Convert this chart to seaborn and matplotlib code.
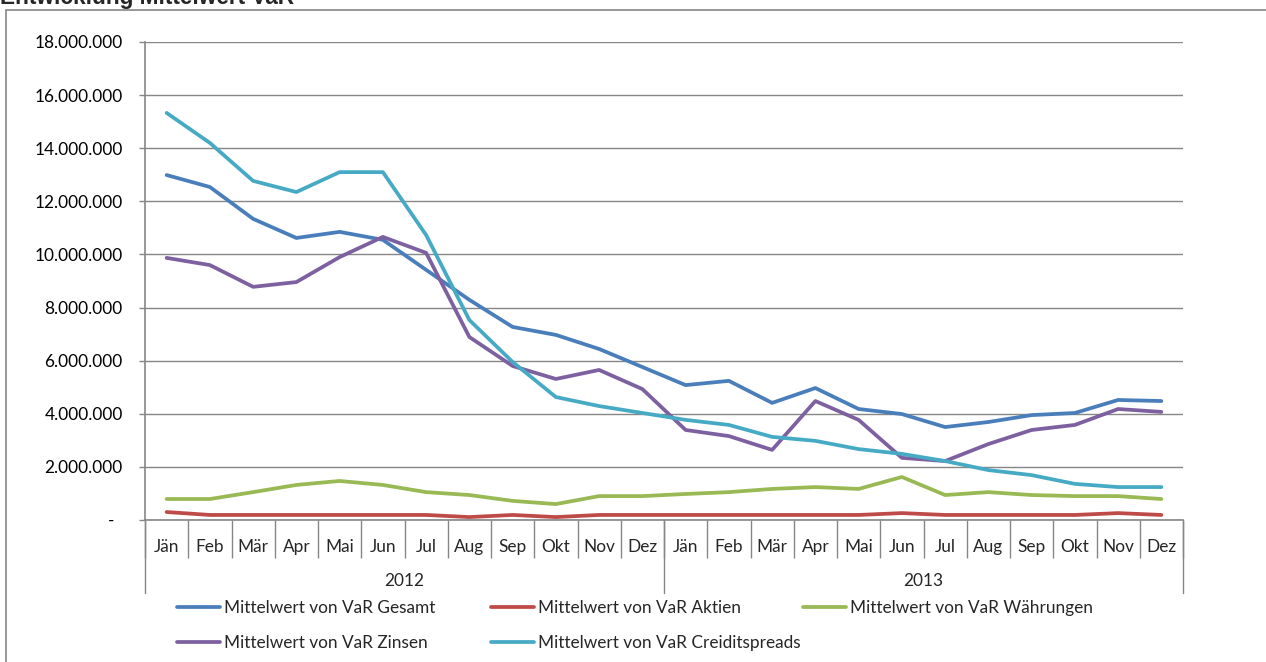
import matplotlib
matplotlib.use("Agg")
import matplotlib.pyplot as plt
import matplotlib.transforms as mtransforms
from matplotlib.lines import Line2D
from matplotlib.patches import Rectangle
from matplotlib.ticker import FuncFormatter, FixedLocator
import numpy as np
import pandas as pd
import seaborn as sns

# ---------------- data ----------------
months = ["Jän", "Feb", "Mär", "Apr", "Mai", "Jun", "Jul", "Aug", "Sep", "Okt", "Nov", "Dez"]
years = ["2012", "2013"]

gesamt = [12990000, 12540000, 11340000, 10620000, 10850000, 10550000, 9420000, 8290000,
          7270000, 6970000, 6440000, 5760000, 5080000, 5240000, 4410000, 4970000,
          4180000, 3990000, 3500000, 3690000, 3950000, 4030000, 4520000, 4480000]
aktien = [300000, 190000, 190000, 190000, 190000, 190000, 190000, 110000,
          190000, 110000, 190000, 190000, 190000, 190000, 190000, 190000,
          190000, 260000, 190000, 190000, 190000, 190000, 260000, 190000]
waehrungen = [790000, 790000, 1050000, 1320000, 1470000, 1320000, 1050000, 940000,
              720000, 600000, 900000, 900000, 980000, 1050000, 1170000, 1240000,
              1170000, 1620000, 940000, 1050000, 940000, 900000, 900000, 790000]
zinsen = [9870000, 9600000, 8780000, 8960000, 9900000, 10660000, 10060000, 6890000,
          5800000, 5310000, 5650000, 4930000, 3390000, 3160000, 2640000, 4480000,
          3770000, 2340000, 2220000, 2860000, 3390000, 3580000, 4180000, 4070000]
credit = [15330000, 14200000, 12770000, 12350000, 13100000, 13100000, 10730000, 7530000,
          5950000, 4630000, 4290000, 4030000, 3770000, 3580000, 3130000, 2980000,
          2670000, 2490000, 2220000, 1880000, 1690000, 1360000, 1240000, 1240000]

series_names = ["Mittelwert von VaR Gesamt", "Mittelwert von VaR Aktien",
                "Mittelwert von VaR Währungen", "Mittelwert von VaR Zinsen",
                "Mittelwert von VaR Creiditspreads"]
series_values = [gesamt, aktien, waehrungen, zinsen, credit]
colors = ["#4A7EBB", "#BE4B48", "#98B954", "#7D60A0", "#46AAC5"]
title = "Entwicklung Mittelwert VaR"

# ---------------- frame ----------------
n = len(months) * len(years)
rows = []
for name, vals in zip(series_names, series_values):
    for i, v in enumerate(vals):
        rows.append({"pos": i, "series": name, "value": v})
df = pd.DataFrame(rows)

# ---------------- style ----------------
sns.set_style("white")
plt.rcParams["font.family"] = ["Lato", "DejaVu Sans"]
GRAY = "#868686"
FS = 12.4

fig = plt.figure(figsize=(12.66, 6.62), dpi=100)
W, H = 1266, 662
ax = fig.add_axes([145 / W, 1 - 520 / H, (1183 - 145) / W, (520 - 42) / H])

sns.lineplot(data=df, x="pos", y="value", hue="series", hue_order=series_names,
             palette=colors, linewidth=2.7, sort=False, legend=False, ax=ax)

ax.set_xlim(-0.5, n - 0.5)
ax.set_ylim(0, 18000000)
ax.set_xlabel("")
ax.set_ylabel("")

# y axis
ax.yaxis.set_major_locator(FixedLocator(np.arange(0, 18000001, 2000000)))
ax.yaxis.set_major_formatter(FuncFormatter(
    lambda v, p: "-  " if v == 0 else f"{v:,.0f}".replace(",", ".")))
ax.grid(axis="y", color=GRAY, linewidth=1.0)
ax.set_axisbelow(True)
for s in ["top", "right"]:
    ax.spines[s].set_visible(False)
for s in ["left", "bottom"]:
    ax.spines[s].set_color(GRAY)
    ax.spines[s].set_linewidth(1.2)
ax.tick_params(axis="y", which="major", length=4, color=GRAY, width=1.0,
               labelsize=FS, pad=12, labelcolor="black", left=True)

# x axis: month labels at centers, separators at boundaries
ax.set_xticks(np.arange(n))
ax.set_xticklabels(months * len(years))
ax.tick_params(axis="x", which="major", length=0, pad=14, labelsize=FS)
ax.xaxis.set_minor_locator(FixedLocator(np.arange(-0.5, n, 1.0)))
ax.tick_params(axis="x", which="minor", length=27, color=GRAY, width=1.0, bottom=True)

trans = mtransforms.blended_transform_factory(ax.transData, ax.transAxes)
ax_h = 520 - 42
for b in [-0.5, 11.5, 23.5]:
    ax.add_line(Line2D([b, b], [0, -73 / ax_h], transform=trans, color=GRAY,
                       linewidth=1.0, clip_on=False))
for k, yr in enumerate(years):
    ax.text(k * 12 + 5.5, -61 / ax_h, yr, transform=trans, ha="center", va="center",
            fontsize=FS)

# chart border and title
fig.patches.append(Rectangle((6 / W, -0.1), 1.2, 1 - 10 / H + 0.1, transform=fig.transFigure,
                             fill=False, edgecolor=GRAY, linewidth=1.2))
fig.text(0, 1 - 4 / H, title, fontsize=16.3, fontweight="bold",
         family=["Liberation Sans", "DejaVu Sans"], ha="left", va="baseline")

# legends (three fixed-width columns)
handles = {name: Line2D([], [], color=c, linewidth=2.7) for name, c in zip(series_names, colors)}
cols = [
    ([series_names[0], series_names[3]], 177, 625.5),
    ([series_names[1], series_names[4]], 491, 625.5),
    ([series_names[2]], 803, 608),
]
for names, xpx, ypx in cols:
    fig.legend([handles[nm] for nm in names], names, loc="center left",
               bbox_to_anchor=(xpx / W, 1 - ypx / H), frameon=False,
               fontsize=FS, handlelength=2.5, handletextpad=0.2,
               borderpad=0, borderaxespad=0, labelspacing=1.05)

fig.savefig("out.png", dpi=100)
